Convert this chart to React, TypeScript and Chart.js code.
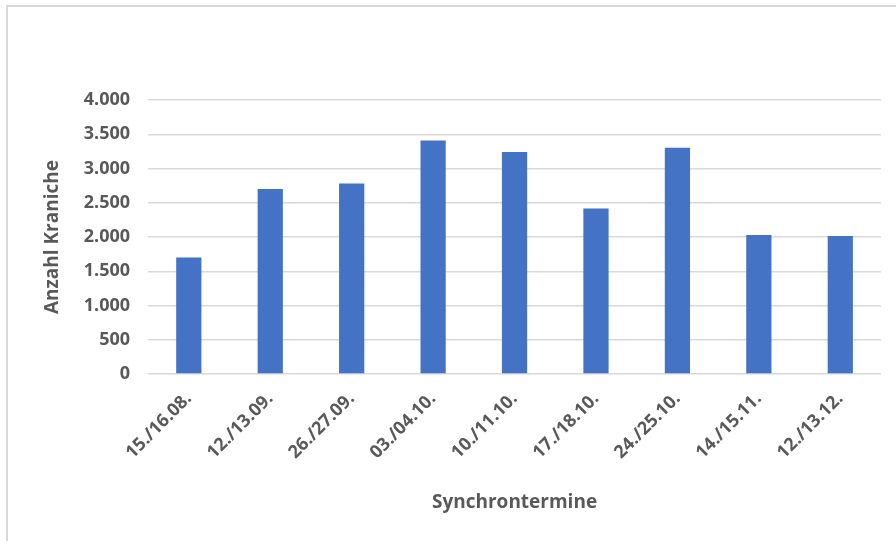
import React, { useEffect, useRef } from "react";
import { Chart, registerables } from "chart.js";

Chart.register(...registerables);

const categories = [
  "15./16.08.",
  "12./13.09.",
  "26./27.09.",
  "03./04.10.",
  "10./11.10.",
  "17./18.10.",
  "24./25.10.",
  "14./15.11.",
  "12./13.12.",
];
const counts = [1700, 2700, 2780, 3410, 3240, 2415, 3305, 2030, 2015];
const yTicks = [0, 500, 1000, 1500, 2000, 2500, 3000, 3500, 4000];
const xTitle = "Synchrontermine";
const yTitle = "Anzahl Kraniche";

const fmt = (v: number) =>
  String(Math.round(v)).replace(/\B(?=(\d{3})+(?!\d))/g, ".");

export default function App() {
  const ref = useRef<HTMLCanvasElement | null>(null);

  useEffect(() => {
    document.body.style.margin = "0";
    const ctx = ref.current!;
    const font = "'Open Sans', 'DejaVu Sans', sans-serif";
    const chart = new Chart(ctx, {
      type: "bar",
      data: {
        labels: categories,
        datasets: [
          {
            data: counts,
            backgroundColor: "#4472C4",
            borderWidth: 0,
            barPercentage: 0.31,
            categoryPercentage: 1,
          },
        ],
      },
      options: {
        animation: false,
        responsive: false,
        maintainAspectRatio: false,
        layout: { padding: { top: 100, right: 15, left: 37, bottom: 23 } },
        plugins: {
          legend: { display: false },
          tooltip: { enabled: false },
        },
        scales: {
          x: {
            grid: { display: false },
            border: { display: false },
            ticks: {
              color: "#595959",
              font: { family: font, size: 18, weight: "bold" },
              maxRotation: 45,
              minRotation: 45,
              padding: 6,
            },
            title: {
              display: true,
              text: xTitle,
              color: "#595959",
              font: { family: font, size: 19, weight: "bold" },
              padding: { top: 22 },
            },
          },
          y: {
            min: 0,
            max: 4000,
            afterBuildTicks: (axis: any) => {
              axis.ticks = yTicks.map((v) => ({ value: v }));
            },
            grid: {
              color: "#d9d9d9",
              lineWidth: 1.5,
              drawTicks: false,
            },
            border: { display: false },
            ticks: {
              color: "#595959",
              font: { family: font, size: 18, weight: "bold" },
              padding: 18,
              callback: (v: any) => fmt(Number(v)),
            },
            title: {
              display: true,
              text: yTitle,
              color: "#595959",
              font: { family: font, size: 19, weight: "bold" },
              padding: { bottom: 2 },
            },
          },
        },
      },
    } as any);
    return () => chart.destroy();
  }, []);

  return (
    <div style={{ position: "relative", width: 896, height: 541, background: "#fff" }}>
      <canvas ref={ref} width={896} height={541} style={{ display: "block" }} />
      <div
        style={{
          position: "absolute",
          left: 6,
          top: 5,
          right: 0,
          bottom: 0,
          borderTop: "2px solid #d9d9d9",
          borderLeft: "2px solid #d9d9d9",
          pointerEvents: "none",
        }}
      />
    </div>
  );
}
